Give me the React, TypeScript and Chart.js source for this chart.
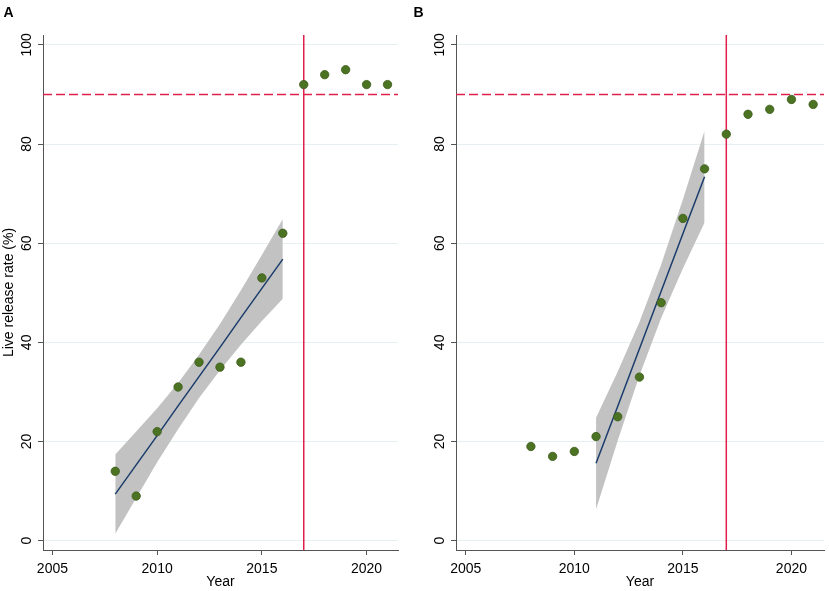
import React, { useEffect, useRef } from "react";
import { Chart, registerables } from "chart.js";

Chart.register(...registerables);

// ---------- data ----------
const years = [2008, 2009, 2010, 2011, 2012, 2013, 2014, 2015, 2016, 2017, 2018, 2019, 2020, 2021];
const rateA = [14, 9, 22, 31, 36, 35, 36, 53, 62, 92, 94, 95, 92, 92];
const rateB = [19, 17, 18, 21, 25, 33, 48, 65, 75, 82, 86, 87, 89, 88];

const fitYearsA = [2008, 2009, 2010, 2011, 2012, 2013, 2014, 2015, 2016];
const fitA = [9.4, 15.3, 21.2, 27.2, 33.1, 39.0, 45.0, 50.9, 56.8];
const ciLowA = [1.4, 8.6, 15.8, 22.5, 28.8, 34.4, 39.5, 44.3, 48.8];
const ciHighA = [17.4, 22.0, 26.7, 31.8, 37.5, 43.7, 50.5, 57.6, 64.9];

const fitYearsB = [2011, 2012, 2013, 2014, 2015, 2016];
const fitB = [15.6, 27.1, 38.7, 50.3, 61.9, 73.4];
const ciLowB = [6.3, 20.2, 33.3, 44.9, 54.9, 64.2];
const ciHighB = [24.8, 34.1, 44.1, 55.7, 68.8, 82.7];

const xTicks = [2005, 2010, 2015, 2020];
const yTicks = [0, 20, 40, 60, 80, 100];
const cutoffYear = 2017;
const targetRate = 90;

// ---------- style ----------
const FONT = '"Liberation Sans", Arial, Helvetica, sans-serif';
const AXIS = "#555555";
const GRID = "#e6eff2";
const RED = "#e0204c";
const GREEN = "#4b7322";
const GREEN_EDGE = "#3b5c1a";
const NAVY = "#1b3d6c";
const BAND = "#c2c2c2";

type PanelProps = {
  label: string;
  rates: number[];
  fitYears: number[];
  fit: number[];
  lo: number[];
  hi: number[];
  yTitle?: string;
  left: number;
  width: number;
  yWidth: number;
  padRight: number;
};

const pts = (xs: number[], ys: number[]) => xs.map((x, i) => ({ x, y: ys[i] }));

function Panel(p: PanelProps) {
  const ref = useRef<HTMLCanvasElement | null>(null);

  useEffect(() => {
    if (!ref.current) return;

    const refLines = {
      id: "refLines",
      beforeDatasetsDraw(chart: any) {
        const { ctx, chartArea, scales } = chart;
        const xv = scales.x.getPixelForValue(cutoffYear);
        const yv = scales.y.getPixelForValue(targetRate);
        ctx.save();
        ctx.strokeStyle = RED;
        ctx.lineWidth = 1.5;
        ctx.beginPath();
        ctx.moveTo(xv, chartArea.top);
        ctx.lineTo(xv, chartArea.bottom);
        ctx.stroke();
        ctx.setLineDash([9, 4]);
        ctx.beginPath();
        ctx.moveTo(chartArea.left, yv);
        ctx.lineTo(chartArea.right, yv);
        ctx.stroke();
        ctx.restore();
      },
    };

    const yLabels = {
      id: "yLabels",
      afterDraw(chart: any) {
        const { ctx, chartArea, scales } = chart;
        ctx.save();
        ctx.fillStyle = "#000";
        ctx.font = `14px ${FONT}`;
        ctx.textAlign = "center";
        ctx.textBaseline = "middle";
        for (const v of yTicks) {
          const y = scales.y.getPixelForValue(v);
          ctx.save();
          ctx.translate(chartArea.left - 15.8, y);
          ctx.rotate(-Math.PI / 2);
          ctx.fillText(String(v), 0, 0);
          ctx.restore();
        }
        ctx.font = `bold 14px ${FONT}`;
        ctx.textAlign = "left";
        ctx.textBaseline = "alphabetic";
        ctx.fillText(p.label, 3.5, 16.7);
        ctx.restore();
      },
    };

    const chart = new Chart(ref.current, {
      type: "line",
      data: {
        datasets: [
          {
            label: "rate",
            data: pts(years, p.rates),
            showLine: false,
            pointRadius: 4.2,
            pointBackgroundColor: GREEN,
            pointBorderColor: GREEN_EDGE,
            pointBorderWidth: 0.8,
          },
          {
            label: "fit",
            data: pts(p.fitYears, p.fit),
            borderColor: NAVY,
            borderWidth: 1.5,
            pointRadius: 0,
            fill: false,
            tension: 0,
          },
          {
            label: "ciHigh",
            data: pts(p.fitYears, p.hi),
            borderColor: "rgba(0,0,0,0)",
            borderWidth: 1,
            backgroundColor: BAND,
            pointRadius: 0,
            fill: "+1",
            tension: 0,
          },
          {
            label: "ciLow",
            data: pts(p.fitYears, p.lo),
            borderColor: "rgba(0,0,0,0)",
            borderWidth: 1,
            pointRadius: 0,
            fill: false,
            tension: 0,
          },
        ],
      },
      options: {
        responsive: false,
        animation: false,
        events: [],
        layout: { padding: { left: 0, right: p.padRight, top: 35, bottom: 0 } },
        plugins: {
          legend: { display: false },
          tooltip: { enabled: false },
          title: { display: false },
        },
        scales: {
          x: {
            type: "linear",
            min: 2004.55,
            max: 2021.5,
            afterBuildTicks: (s: any) => {
              s.ticks = xTicks.map((v) => ({ value: v }));
            },
            afterFit: (s: any) => {
              s.height = 41;
            },
            grid: {
              drawOnChartArea: false,
              drawTicks: true,
              tickLength: 5,
              tickColor: AXIS,
              tickWidth: 1,
            },
            border: { display: true, color: AXIS, width: 1 },
            ticks: {
              color: "#000",
              font: { family: FONT, size: 14 },
              padding: 6,
              maxRotation: 0,
              minRotation: 0,
              autoSkip: false,
              callback: (v: any) => String(v),
            },
            title: {
              display: true,
              text: "Year",
              color: "#000",
              font: { family: FONT, size: 14 },
              padding: { top: 0, bottom: 0 },
            },
          },
          y: {
            type: "linear",
            min: -1.88,
            max: 102,
            afterBuildTicks: (s: any) => {
              s.ticks = yTicks.map((v) => ({ value: v }));
            },
            afterFit: (s: any) => {
              s.width = p.yWidth;
            },
            grid: {
              color: GRID,
              lineWidth: 1,
              drawTicks: true,
              tickLength: 5,
              tickColor: AXIS,
              tickWidth: 1,
            },
            border: { display: true, color: AXIS, width: 1 },
            ticks: { display: false },
            title: {
              display: !!p.yTitle,
              text: p.yTitle || "",
              color: "#000",
              font: { family: FONT, size: 14 },
              padding: { top: 1, bottom: 0 },
            },
          },
        },
      },
      plugins: [refLines, yLabels],
    } as any);

    return () => chart.destroy();
  }, []);

  return (
    <canvas
      ref={ref}
      width={p.width}
      height={591}
      style={{ position: "absolute", left: p.left, top: 0, width: p.width, height: 591 }}
    />
  );
}

export default function App() {
  return (
    <div
      style={{
        position: "absolute",
        left: 0,
        top: 0,
        width: 829,
        height: 591,
        background: "#fff",
        overflow: "hidden",
      }}
    >
      <Panel
        label="A"
        rates={rateA}
        fitYears={fitYearsA}
        fit={fitA}
        lo={ciLowA}
        hi={ciHighA}
        yTitle="Live release rate (%)"
        left={0}
        width={410}
        yWidth={43}
        padRight={12}
      />
      <Panel
        label="B"
        rates={rateB}
        fitYears={fitYearsB}
        fit={fitB}
        lo={ciLowB}
        hi={ciHighB}
        left={410}
        width={419}
        yWidth={46}
        padRight={4}
      />
    </div>
  );
}
